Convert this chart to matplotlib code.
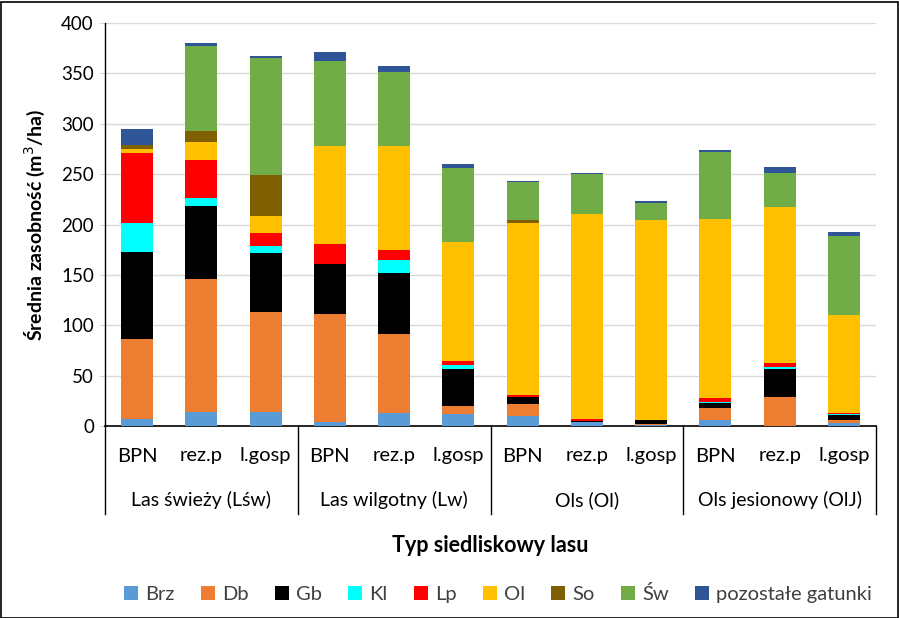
import matplotlib
matplotlib.use("Agg")
import matplotlib.pyplot as plt
from matplotlib.patches import Rectangle
import matplotlib.transforms as mtransforms
import numpy as np

plt.rcParams['font.family'] = ['Lato', 'DejaVu Sans']

sub_labels = ["BPN", "rez.p", "l.gosp"] * 4
groups = ["Las świeży (Lśw)", "Las wilgotny (Lw)", "Ols (Ol)", "Ols jesionowy (OlJ)"]
species = ["Brz", "Db", "Gb", "Kl", "Lp", "Ol", "So", "Św", "pozostałe gatunki"]

brz = [6.5, 14, 13.6, 4.3, 13.2, 12, 9.9, 4, 1, 6, 0, 3.3]
db  = [80, 131.7, 99.6, 107, 78.6, 8, 12, 0, 1, 12.2, 29, 3]
gb  = [86.7, 72.5, 58.5, 49.6, 59.6, 36.7, 6.7, 1, 4, 4.6, 27.8, 5]
kl  = [28, 8, 7, 0, 13, 4, 0, 0, 0, 1.3, 1.7, 0.5]
lp  = [70, 37.5, 13, 20, 10, 4, 2.3, 1.5, 0, 4, 4, 1.3]
ol  = [4, 18, 17, 97, 103.5, 118, 171, 203.5, 198, 177.4, 155, 97]
so  = [4, 11, 40.7, 0, 0, 0, 2.7, 0, 0, 0, 0, 0]
sw  = [0, 84, 116, 84, 73, 73.5, 37.4, 40, 17, 66, 33.7, 78.4]
poz = [16, 3, 2, 9, 6, 4, 1, 1, 2.7, 2.7, 6, 4]

series = [brz, db, gb, kl, lp, ol, so, sw, poz]
colors = ["#5B9BD5", "#ED7D31", "#000000", "#00FFFF", "#FF0000",
          "#FFC000", "#7F6000", "#70AD47", "#2F5597"]

W, H = 899, 618
fig = plt.figure(figsize=(W/100, H/100), dpi=100)
fig.patches.append(Rectangle((0.5/W, 0.5/H), 1-2/W, 1-2/H, transform=fig.transFigure,
                             fill=False, edgecolor="black", linewidth=1.2))

left, right, bottom, top = 105, 876, 426, 23
ax = fig.add_axes([left/W, 1-bottom/H, (right-left)/W, (bottom-top)/H])

x = np.arange(len(sub_labels))
base = np.zeros(len(x))
handles = []
for name, vals, c in zip(species, series, colors):
    b = ax.bar(x, vals, 0.5, bottom=base, color=c, label=name, zorder=3)
    handles.append(b)
    base += np.array(vals)

ax.set_xlim(-0.5, len(x)-0.5)
ax.set_ylim(0, 400)
ax.set_yticks(np.arange(0, 401, 50))
ax.yaxis.grid(True, color="#D9D9D9", linewidth=1, zorder=0)
ax.set_axisbelow(True)
for s in ["top", "right", "left"]:
    ax.spines[s].set_visible(False)
ax.spines["bottom"].set_color("black")
ax.spines["bottom"].set_linewidth(1.2)
ax.tick_params(axis="y", length=4, color="#D9D9D9", labelsize=13.5, labelcolor="#000000", pad=4)
ax.tick_params(axis="x", length=0, labelbottom=False)

# left axis line
ax.plot([0, 0], [0, 1], transform=ax.transAxes, color="black", lw=1.0, clip_on=False)

trans = mtransforms.blended_transform_factory(ax.transData, ax.transAxes)
ph = bottom - top
for xi, lab in zip(x, sub_labels):
    ax.text(xi, -(456-bottom)/ph, lab, transform=trans, ha="center", va="center",
            fontsize=14.5, color="black")
for gi, g in enumerate(groups):
    ax.text(gi*3+1, -(500-bottom)/ph, g, transform=trans, ha="center", va="center",
            fontsize=14, color="black")
for k in range(5):
    xb = k*3 - 0.5
    ax.plot([xb, xb], [0, -(514-bottom)/ph], transform=trans, color="black",
            lw=1.0, clip_on=False)

ax.set_ylabel("Średnia zasobność (m$^3$/ha)", fontsize=14, fontweight="bold", labelpad=10)
fig.text((left+right)/2/W, 1-545/H, "Typ siedliskowy lasu", ha="center", va="center",
         fontsize=15.5, fontweight="bold")

leg = fig.legend(handles=handles, labels=species, loc="center", ncol=9,
                 bbox_to_anchor=(498/W, 1-594/H), frameon=False, fontsize=14.5,
                 handlelength=0.7, handleheight=0.7, handletextpad=0.35,
                 columnspacing=1.3, borderaxespad=0)
for t in leg.get_texts():
    t.set_color("#404040")

fig.savefig("out.png", dpi=100)
